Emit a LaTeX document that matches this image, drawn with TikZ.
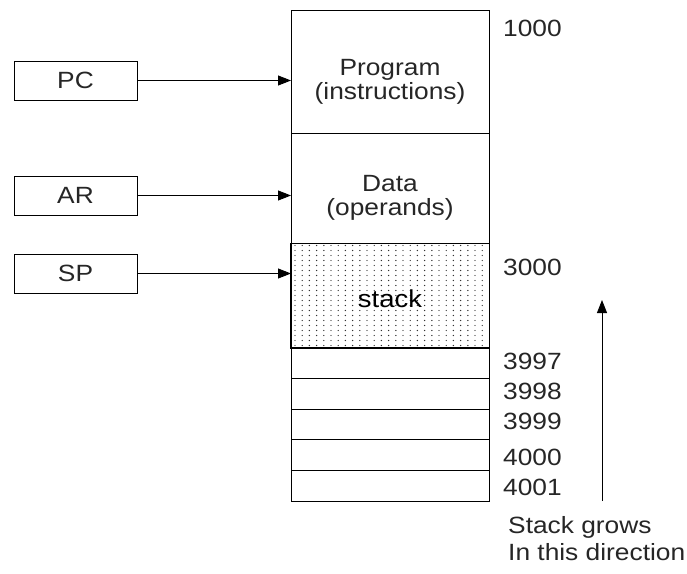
\documentclass[tikz,border=0pt]{standalone}
\usepackage{fontspec}
\setmainfont{Liberation Sans}[FakeStretch=1.12]
\usetikzlibrary{arrows.meta}
\begin{document}
\begin{tikzpicture}[x=1pt,y=-1pt,
  every node/.style={font=\fontsize{23.5}{24}\selectfont, text=black!85},
  reg/.style={draw, line width=0.9pt, minimum width=123pt, minimum height=39pt, inner sep=0pt},
  mem/.style={draw, line width=0.9pt, minimum width=198pt, inner sep=0pt, anchor=north west},
  addr/.style={anchor=west, inner sep=0pt},
  ptr/.style={-{Triangle[length=13pt,width=10pt]}, line width=0.9pt}]
\useasboundingbox (0,0) rectangle (687,573);
% registers
\node[reg] (pc) at (75.5,80.5) {PC};
\node[reg] (ar) at (75.5,195.5) {AR};
\node[reg] (sp) at (75.5,273.5) {SP};
% memory regions
\node[mem, minimum height=123pt] (prog) at (291,10) {};
\node[mem, minimum height=110pt] (data) at (291,133) {};
% stack dots
\begin{scope}
  \clip (291,243) rectangle (489,347);
  \foreach \yy in {245.5,250.5,...,347}{
    \foreach \xx in {295,302.2,...,489}{
      \fill[black!80] (\xx,\yy) circle (0.7pt);
    }
  }
\end{scope}
\node[mem, minimum height=104pt] (stk) at (291,243) {};
\draw[line width=2pt] (stk.north west) -- (stk.south west) -- (stk.south east);
\foreach \i/\y in {1/347,2/377.8,3/408.6,4/439.4,5/470.2}{
  \node[mem, minimum height=30.8pt] (row\i) at (291,\y) {};
}
% region texts
\node[align=center] (progtxt) at (390,82) {Program\\(instructions)};
\node[align=center] (datatxt) at (390,198) {Data\\(operands)};
\node[text=black, font=\fontsize{24.5}{25}\selectfont] (stktxt) at (390,299) {stack};
% addresses
\node[addr] (a1000) at (503,28) {1000};
\node[addr] (a3000) at (503,267) {3000};
\node[addr] (a3997) at (503,361) {3997};
\node[addr] (a3998) at (503,391) {3998};
\node[addr] (a3999) at (503,421) {3999};
\node[addr] (a4000) at (503,457) {4000};
\node[addr] (a4001) at (503,487) {4001};
% pointers
\draw[ptr] (pc.east) -- (pc.east -| prog.west);
\draw[ptr] (ar.east) -- (ar.east -| data.west);
\draw[ptr] (sp.east) -- (sp.east -| stk.west);
% growth arrow
\coordinate (gbot) at (602,501);
\coordinate (gtop) at (602,300);
\draw[ptr] (gbot) -- (gtop);
\node[anchor=north west, inner sep=0pt, align=left, font=\fontsize{23.5}{27}\selectfont] (grow) at (508,516) {Stack grows\\In this direction};
\end{tikzpicture}
\end{document}
